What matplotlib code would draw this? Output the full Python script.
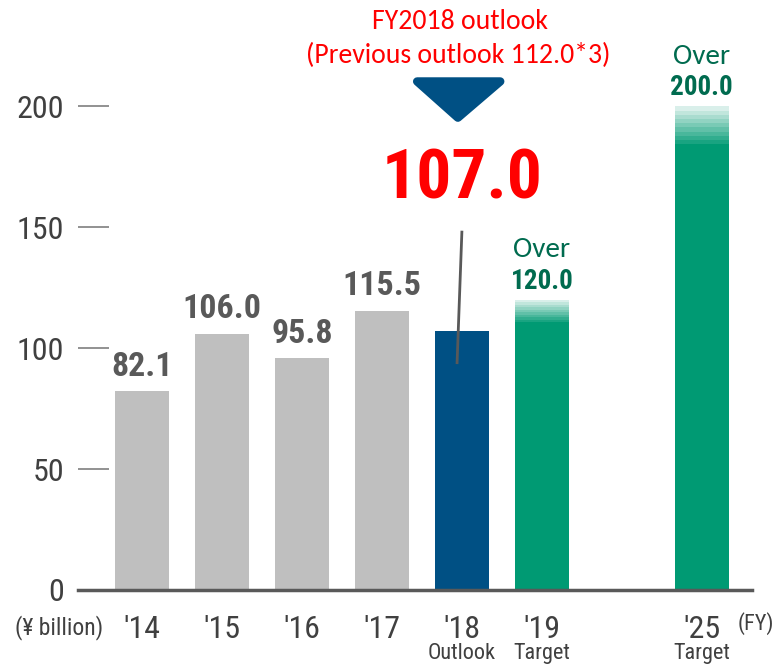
import matplotlib
matplotlib.use("Agg")
import matplotlib.pyplot as plt
from matplotlib import font_manager
from matplotlib.patches import Polygon

_names = {f.name for f in font_manager.fontManager.ttflist}


def pick(cands):
    for c in cands:
        if c in _names:
            return c
    return 'DejaVu Sans'


NARROW = pick(['Liberation Sans Narrow', 'Arial Narrow', 'Roboto Condensed',
               'Archivo Narrow', 'PT Sans Narrow', 'Pragati Narrow',
               'Barlow Semi Condensed', 'Asap Condensed'])
WIDE = pick(['Carlito', 'Calibri', 'Lato', 'Open Sans'])

# ---- data ----
categories = ["'14", "'15", "'16", "'17", "'18", "'19", "'25"]
values = [82.1, 106.0, 95.8, 115.5, 107.0, 120.0, 200.0]
sublabels = ["", "", "", "", "Outlook", "Target", "Target"]
value_labels = ["82.1", "106.0", "95.8", "115.5", "107.0", "120.0", "200.0"]
yticks = [0, 50, 100, 150, 200]

positions = [0, 1, 2, 3, 4, 5, 7]
kinds = ["actual", "actual", "actual", "actual", "outlook", "target", "target"]

GRAY = '#BFBFBF'
BLUE = '#005084'
GREEN = '#009A73'
DKGREEN = '#006B4F'
TXT = '#404040'
LBL = '#595959'

fig = plt.figure(figsize=(7.73, 6.65), dpi=100)
ax = fig.add_axes([0.101, 0.1128, 0.872, 0.800])
ax.set_xlim(-0.8, 7.63)
ax.set_ylim(0, 220)

W = 0.67
for p, v, k, lab in zip(positions, values, kinds, value_labels):
    if k == "actual":
        ax.bar(p, v, width=W, color=GRAY, zorder=2, linewidth=0)
        ax.text(p, v + 6.5, lab, ha='center', va='baseline', fontsize=24.5,
                fontweight='bold', color=LBL, family=NARROW)
    elif k == "outlook":
        ax.bar(p, v, width=W, color=BLUE, zorder=2, linewidth=0)
    else:
        fade = v * 0.078
        solid = v - fade
        ax.bar(p, solid, width=W, color=GREEN, zorder=2, linewidth=0)
        n = 9
        h = fade / n
        for i in range(n):
            a = 0.9 - i * 0.75 / (n - 1)
            ax.bar(p, h, bottom=solid + i * h, width=W, color=GREEN,
                   alpha=a, zorder=2, linewidth=0)
        ax.text(p, v + 4.5, lab, ha='center', va='baseline', fontsize=19.5,
                fontweight='bold', color=DKGREEN, family=NARROW)
        ax.text(p, v + 17.5, "Over", ha='center', va='baseline', fontsize=21,
                color=DKGREEN, family=WIDE)

# outlook annotation
i18 = kinds.index("outlook")
p18 = positions[i18]
ax.plot([p18, p18 - 0.06], [148, 94], color=LBL, lw=2, zorder=3)
ax.text(p18, 162, value_labels[i18], ha='center', va='baseline', fontsize=50,
        fontweight='bold', color='#FF0000', family=NARROW)
tri = Polygon([[p18 - 0.56, 210.3], [p18 + 0.48, 210.3], [p18 - 0.05, 195.3]],
              closed=True, facecolor=BLUE, edgecolor=BLUE, lw=6,
              joinstyle='round', zorder=3, clip_on=False)
ax.add_patch(tri)
fig.text(0.595, 0.967, "FY2018 outlook", ha='center', va='center', fontsize=20,
         color='#FF0000', family=WIDE)
fig.text(0.593, 0.917, "(Previous outlook 112.0*3)", ha='center', va='center',
         fontsize=20, color='#FF0000', family=WIDE)

# axes styling
for s in ['top', 'right', 'left']:
    ax.spines[s].set_visible(False)
ax.spines['bottom'].set_color(LBL)
ax.spines['bottom'].set_linewidth(2.5)
ax.set_yticks(yticks)
ax.set_yticklabels([str(t) for t in yticks], family=NARROW, fontsize=23, color=TXT)
ax.tick_params(axis='y', direction='in', length=22, width=1.2, color='#7F7F7F', pad=10)
ax.set_xticks(positions)
ax.set_xticklabels(categories, family=NARROW, fontsize=23, color=TXT)
ax.tick_params(axis='x', length=0, pad=18)
for p, s in zip(positions, sublabels):
    if s:
        ax.text(p, -0.12, s, transform=ax.get_xaxis_transform(), ha='center',
                va='center', fontsize=16, color=TXT, family=NARROW)

fig.text(0.077, 0.056, "(¥ billion)", ha='center', va='center', fontsize=17,
         color=TXT, family=NARROW)
fig.text(0.978, 0.062, "(FY)", ha='center', va='center', fontsize=16,
         color=TXT, family=NARROW)

fig.savefig("out.png", dpi=100)
